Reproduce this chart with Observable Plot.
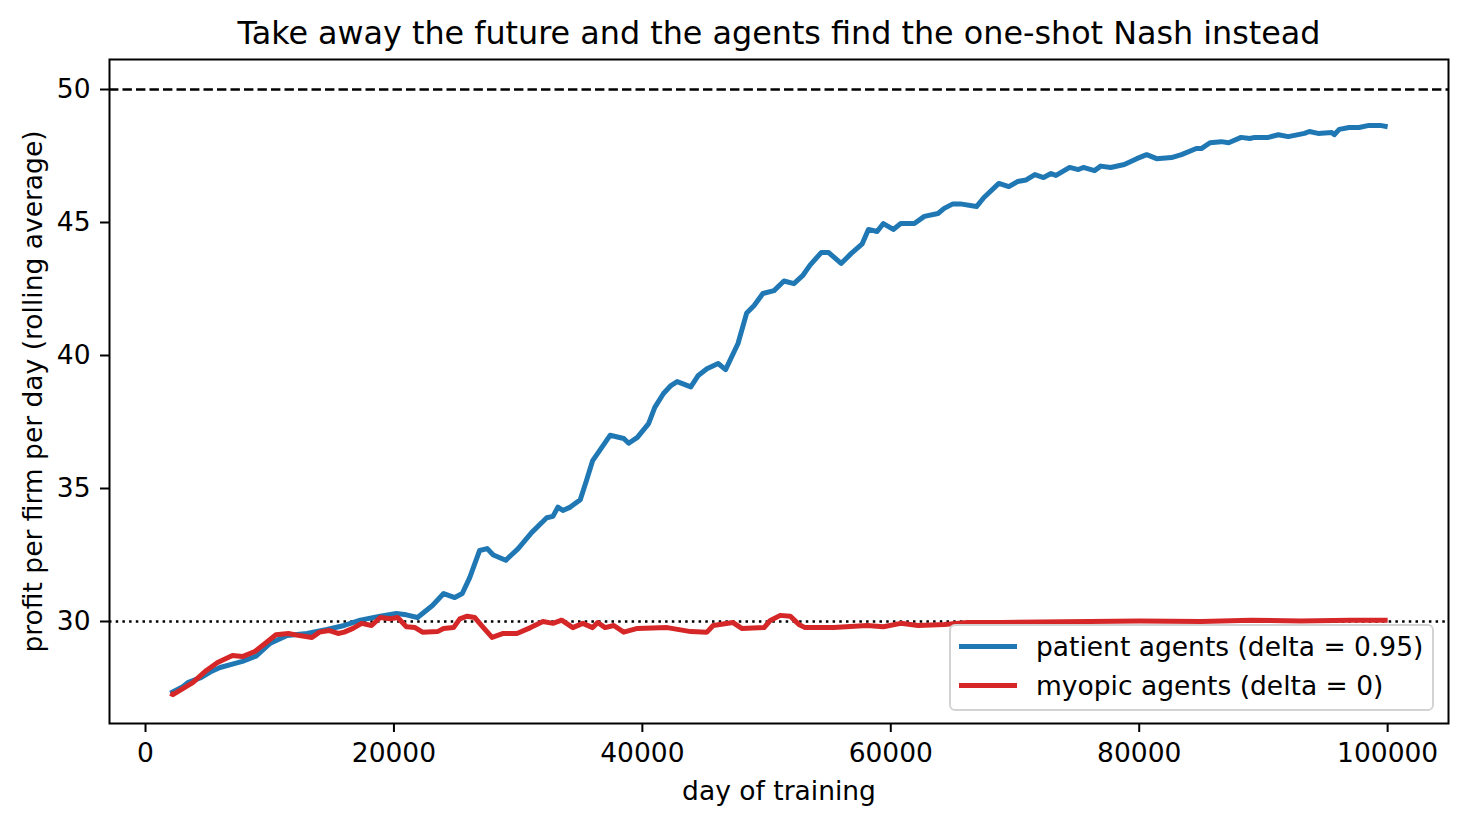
<!DOCTYPE html>
<html>
<head>
<meta charset="utf-8">
<script src="https://cdn.jsdelivr.net/npm/d3@7"></script>
<script src="https://cdn.jsdelivr.net/npm/@observablehq/plot@0.6"></script>
<style>
  body { margin: 0; background: white; }
  #wrap { position: relative; width: 1466px; height: 825px; font-family: "DejaVu Sans", sans-serif; }
  #legend { position: absolute; left: 949px; top: 624px; width: 485px; height: 87px; box-sizing: border-box;
    border: 2px solid #d3d3d3; border-radius: 6px; background: rgba(255,255,255,0.8); }
  .row { position: absolute; left: 8px; height: 30px; display: flex; align-items: center; font-size: 26.5px; color: black; white-space: nowrap; }
  .sw { width: 58px; height: 5px; margin-right: 19px; }
</style>
</head>
<body>
<div id="wrap"></div>
<script>
const title = "Take away the future and the agents find the one-shot Nash instead";
const xLabel = "day of training";
const yLabel = "profit per firm per day (rolling average)";
const seriesNames = ["patient agents (delta = 0.95)", "myopic agents (delta = 0)"];
const seriesColors = ["#1f77b4", "#d62728"];
const xTicks = [0, 20000, 40000, 60000, 80000, 100000];
const yTicks = [30, 35, 40, 45, 50];
const collusionLevel = 50;
const nashLevel = 30;

// patient agents: [day (thousands), profit]
const patient = [
[2.0,27.3],[3.0,27.55],[3.4,27.7],[4.5,27.9],[5.2,28.1],[6.0,28.27],[7.0,28.4],[7.8,28.5],[8.9,28.7],
[10.0,29.17],[11.4,29.47],[13.0,29.55],[14.6,29.7],[16.0,29.85],[17.3,30.05],[18.9,30.2],[20.2,30.3],
[21.0,30.25],[21.9,30.15],[23.1,30.6],[24.0,31.05],[24.9,30.9],[25.5,31.05],[26.1,31.65],[26.9,32.67],
[27.5,32.74],[28.0,32.5],[29.0,32.3],[30.0,32.74],[31.1,33.35],[32.3,33.9],[32.8,33.95],[33.2,34.3],
[33.6,34.17],[34.2,34.3],[35.0,34.58],[35.5,35.3],[36.0,36.05],[37.4,37.0],[38.5,36.88],[38.9,36.7],
[39.6,36.92],[40.5,37.44],[41.0,38.05],[41.7,38.57],[42.3,38.87],[42.8,39.02],[43.9,38.82],[44.5,39.25],
[45.2,39.5],[46.1,39.7],[46.7,39.47],[47.7,40.45],[48.4,41.6],[49.0,41.88],[49.7,42.33],[50.6,42.44],
[51.4,42.8],[52.2,42.7],[52.9,43.0],[53.5,43.4],[54.4,43.87],[55.0,43.87],[56.0,43.46],[56.8,43.83],
[57.7,44.2],[58.2,44.74],[58.9,44.66],[59.4,44.96],[60.2,44.74],[60.8,44.96],[61.9,44.96],[62.7,45.23],
[63.8,45.34],[64.3,45.53],[65.0,45.7],[65.6,45.7],[66.9,45.6],[67.5,45.94],[68.7,46.47],[69.5,46.35],
[70.2,46.54],[70.9,46.6],[71.6,46.8],[72.3,46.69],[72.9,46.84],[73.3,46.77],[74.4,47.07],[75.1,46.99],
[75.5,47.07],[76.4,46.95],[76.9,47.12],[77.7,47.07],[78.8,47.18],[79.8,47.4],[80.6,47.55],[81.4,47.4],
[82.6,47.44],[83.4,47.55],[84.6,47.78],[85.0,47.78],[85.7,48.0],[86.6,48.04],[87.2,48.0],[88.2,48.2],
[88.9,48.16],[89.3,48.2],[90.4,48.2],[91.2,48.3],[92.0,48.23],[93.3,48.35],[93.7,48.42],[94.4,48.35],
[95.5,48.38],[95.7,48.3],[96.1,48.5],[96.9,48.57],[97.7,48.57],[98.5,48.65],[99.4,48.65],[100.0,48.6]
];

// myopic agents: [day (thousands), profit]
const myopic = [
[2.0,27.3],[2.2,27.25],[3.0,27.48],[3.8,27.7],[4.9,28.16],[5.8,28.46],[7.0,28.72],[7.8,28.68],[8.8,28.87],
[9.7,29.2],[10.5,29.5],[11.5,29.55],[12.4,29.47],[13.4,29.4],[14.0,29.6],[14.8,29.66],[15.5,29.55],
[16.0,29.6],[16.7,29.74],[17.4,29.93],[18.2,29.85],[18.9,30.15],[19.7,30.1],[20.3,30.15],[21.0,29.8],
[21.7,29.77],[22.3,29.6],[23.5,29.62],[24.0,29.74],[24.8,29.77],[25.3,30.1],[25.9,30.2],[26.5,30.15],
[27.2,29.77],[27.9,29.4],[28.8,29.55],[29.9,29.55],[31.0,29.77],[32.0,30.0],[32.8,29.93],[33.5,30.05],
[34.4,29.77],[35.2,29.93],[36.0,29.77],[36.4,29.96],[37.0,29.77],[37.7,29.85],[38.5,29.6],[39.6,29.74],
[42.0,29.77],[43.9,29.62],[45.2,29.6],[45.7,29.85],[47.3,29.96],[48.0,29.74],[49.8,29.77],[50.3,30.04],
[51.1,30.23],[51.9,30.2],[52.6,29.89],[53.1,29.77],[55.4,29.77],[58.1,29.85],[59.4,29.8],[60.8,29.93],
[62.2,29.85],[64.3,29.89],[66.2,29.96],[68.9,29.96],[72.0,29.98],[76.0,30.0],[80.0,30.02],[85.0,30.0],
[89.0,30.05],[93.0,30.02],[97.0,30.05],[100.0,30.05]
];

const rows = [
  ...patient.map(([d, v]) => ({day: d * 1000, profit: v, series: seriesNames[0]})),
  ...myopic.map(([d, v]) => ({day: d * 1000, profit: v, series: seriesNames[1]}))
];

const chart = Plot.plot({
  width: 1466,
  height: 825,
  marginLeft: 109,
  marginRight: 18,
  marginTop: 59,
  marginBottom: 102,
  style: {fontFamily: "DejaVu Sans", fontSize: "26.5px", background: "white", color: "black", overflow: "visible"},
  x: {domain: [-2900, 104900]},
  y: {domain: [26.165, 51.128]},
  color: {domain: seriesNames, range: seriesColors},
  marks: [
    Plot.ruleY([collusionLevel], {stroke: "black", strokeWidth: 2.5, strokeDasharray: "9.4,4.1"}),
    Plot.ruleY([nashLevel], {stroke: "black", strokeWidth: 2.5, strokeDasharray: "2.5,4.2"}),
    Plot.line(rows, {x: "day", y: "profit", z: "series", stroke: "series", strokeWidth: 5, strokeLinejoin: "round", strokeLinecap: "butt"}),
    Plot.axisX({ticks: xTicks, tickFormat: d3.format("d"), tickSize: 9, tickPadding: 11, strokeWidth: 2, label: null, fontSize: 26.5}),
    Plot.axisY({ticks: yTicks, tickFormat: d3.format("d"), tickSize: 9, tickPadding: 10, strokeWidth: 2, label: null, fontSize: 26.5}),
    Plot.frame({stroke: "black", strokeWidth: 2}),
    Plot.text([title], {text: d => d, frameAnchor: "top", dy: -26, lineAnchor: "middle", textAnchor: "middle", fontSize: 31.8, fill: "black"}),
    Plot.text([xLabel], {text: d => d, frameAnchor: "bottom", dy: 68, lineAnchor: "middle", textAnchor: "middle", fontSize: 26.5, fill: "black"}),
    Plot.text([yLabel], {text: d => d, frameAnchor: "left", dx: -76, rotate: -90, lineAnchor: "middle", textAnchor: "middle", fontSize: 26.5, fill: "black"})
  ]
});

const wrap = document.getElementById("wrap");
wrap.appendChild(chart);

const legend = document.createElement("div");
legend.id = "legend";
seriesNames.forEach((name, i) => {
  const row = document.createElement("div");
  row.className = "row";
  row.style.top = (i === 0 ? 5 : 44) + "px";
  const sw = document.createElement("div");
  sw.className = "sw";
  sw.style.background = seriesColors[i];
  const label = document.createElement("span");
  label.textContent = name;
  row.appendChild(sw);
  row.appendChild(label);
  legend.appendChild(row);
});
wrap.appendChild(legend);
</script>
</body>
</html>
